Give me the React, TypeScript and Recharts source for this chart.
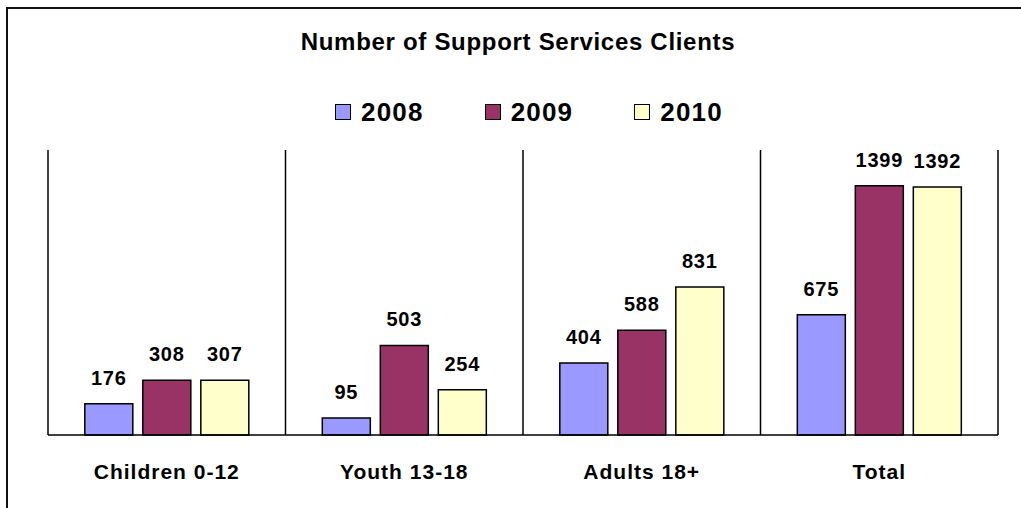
import { BarChart, Bar, XAxis, YAxis, CartesianGrid, LabelList } from "recharts";

const categories = ["Children 0-12", "Youth 13-18", "Adults 18+", "Total"];
const years = ["2008", "2009", "2010"];
const values2008 = [176, 95, 404, 675];
const values2009 = [308, 503, 588, 1399];
const values2010 = [307, 254, 831, 1392];
const colors = ["#9999FF", "#993366", "#FFFFCC"];

const data = categories.map((name, i) => ({
  name,
  y2008: values2008[i],
  y2009: values2009[i],
  y2010: values2010[i],
}));

const FONT = '"Liberation Sans", Arial, sans-serif';

const CategoryTick = (props: any) => {
  const { x, y, payload } = props;
  return (
    <text
      x={x}
      y={y + 36}
      textAnchor="middle"
      fontFamily={FONT}
      fontSize={21}
      fontWeight="bold"
      letterSpacing={1}
      fill="#000"
    >
      {payload.value}
    </text>
  );
};

export default function App() {
  return (
    <div
      style={{
        position: "absolute",
        left: 0,
        top: 0,
        width: 1021,
        height: 508,
        overflow: "hidden",
        background: "#fff",
      }}
    >
      <div
        style={{
          position: "absolute",
          left: 6,
          top: 7,
          width: 1100,
          height: 600,
          border: "2px solid #111",
        }}
      />
      <div
        style={{
          position: "absolute",
          left: 298,
          width: 440,
          top: 28,
          textAlign: "center",
          fontFamily: FONT,
          fontSize: 24,
          fontWeight: "bold",
          letterSpacing: 0.7,
          color: "#000",
          whiteSpace: "nowrap",
        }}
      >
        Number of Support Services Clients
      </div>
      {/* legend */}
      <div
        style={{
          position: "absolute",
          left: 335,
          top: 97,
          display: "flex",
          gap: 61,
          fontFamily: FONT,
        }}
      >
        {years.map((y, i) => (
          <div key={y} style={{ display: "flex", alignItems: "center" }}>
            <div
              style={{
                width: 14,
                height: 14,
                background: colors[i],
                border: "1.5px solid #000",
                marginRight: 10,
              }}
            />
            <span
              style={{
                fontSize: 26,
                fontWeight: "bold",
                letterSpacing: 1.2,
                color: "#000",
                lineHeight: "30px",
              }}
            >
              {y}
            </span>
          </div>
        ))}
      </div>
      <div style={{ position: "absolute", left: 0, top: 0 }}>
        <BarChart
          width={1021}
          height={508}
          data={data}
          margin={{ top: 150, left: 48, right: 23, bottom: 13 }}
          barCategoryGap="15.5%"
          barGap={10}
        >
          <CartesianGrid
            horizontal={false}
            stroke="#000"
            strokeWidth={1.5}
            verticalCoordinatesGenerator={({ offset }: any) =>
              [0, 1, 2, 3, 4].map((i) => offset.left + (i * offset.width) / 4)
            }
          />
          <XAxis
            dataKey="name"
            height={60}
            axisLine={{ stroke: "#000", strokeWidth: 1.5 }}
            tickLine={false}
            tick={<CategoryTick />}
            interval={0}
          />
          <YAxis hide domain={[0, 1600]} />
          {["y2008", "y2009", "y2010"].map((key, i) => (
            <Bar
              key={key}
              dataKey={key}
              name={years[i]}
              fill={colors[i]}
              stroke="#000"
              strokeWidth={1.5}
              isAnimationActive={false}
            >
              <LabelList
                dataKey={key}
                position="top"
                offset={19}
                fontFamily={FONT}
                fontSize={20}
                fontWeight="bold"
                letterSpacing={0.8}
                fill="#000"
              />
            </Bar>
          ))}
        </BarChart>
      </div>
    </div>
  );
}
